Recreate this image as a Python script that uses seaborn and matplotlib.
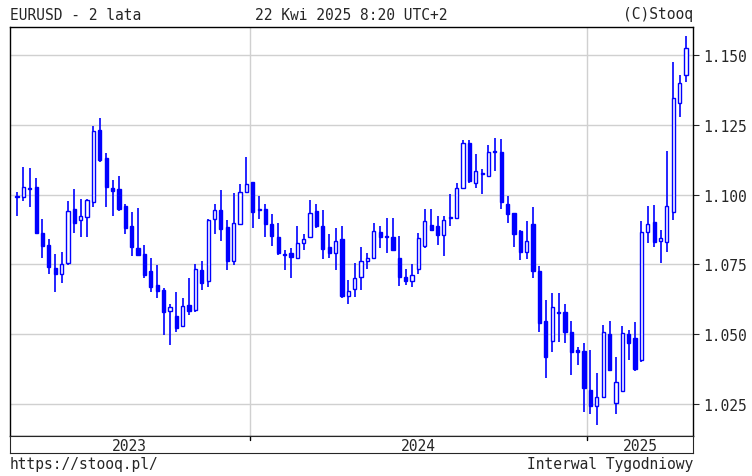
import pandas as pd
import numpy as np
import matplotlib
matplotlib.use("Agg")
import matplotlib.pyplot as plt
import seaborn as sns

# weekly EURUSD candles
opens = [1.0992, 1.0993, 1.1025, 1.1028, 1.0863, 1.0820, 1.0736, 1.0717, 1.0755, 1.0948,
         1.0910, 1.0920, 1.0972, 1.1232, 1.1132, 1.1024, 1.1019, 1.0959, 1.0887, 1.0808,
         1.0788, 1.0727, 1.0677, 1.0658, 1.0583, 1.0566, 1.0528, 1.0605,
         1.0587, 1.0729, 1.0690, 1.0912, 1.0945, 1.0884, 1.0764, 1.0896, 1.1011, 1.1044,
         1.0950, 1.0950, 1.0894, 1.0850, 1.0789, 1.0790, 1.0772, 1.0827, 1.0847, 1.0941,
         1.0888, 1.0811, 1.0790, 1.0841, 1.0637, 1.0662, 1.0705,
         1.0764, 1.0774, 1.0868, 1.0850, 1.0847, 1.0774, 1.0706, 1.0691, 1.0732, 1.0817,
         1.0892, 1.0888, 1.0856, 1.0919, 1.0915, 1.1024, 1.1183, 1.1041, 1.1077, 1.1068,
         1.1154, 1.1151, 1.0968, 1.0935, 1.0871, 1.0794, 1.0895,
         1.0727, 1.0546, 1.0476, 1.0579, 1.0579, 1.0507, 1.0444, 1.0441, 1.0301, 1.0244,
         1.0277, 1.0500, 1.0253, 1.0298, 1.0500, 1.0486, 1.0408, 1.0865, 1.0901, 1.0834,
         1.0832, 1.0939, 1.1327, 1.1428]
highs = [1.1010, 1.1099, 1.1094, 1.1061, 1.0914, 1.0840, 1.0788, 1.0796, 1.0976, 1.1019,
         1.0985, 1.0985, 1.1244, 1.1276, 1.1150, 1.1052, 1.1066, 1.0965, 1.0938, 1.0953,
         1.0820, 1.0774, 1.0747, 1.0666, 1.0610, 1.0651, 1.0629, 1.0700,
         1.0752, 1.0762, 1.0914, 1.0965, 1.1015, 1.0908, 1.1006, 1.1039, 1.1133, 1.1044,
         1.0996, 1.0968, 1.0929, 1.0897, 1.0800, 1.0808, 1.0888, 1.0859, 1.0982, 1.0965,
         1.0945, 1.0859, 1.0879, 1.0888, 1.0693, 1.0756, 1.0811,
         1.0791, 1.0897, 1.0888, 1.0915, 1.0915, 1.0853, 1.0732, 1.0750, 1.0862, 1.0947,
         1.0947, 1.0923, 1.0923, 1.1004, 1.1041, 1.1195, 1.1195, 1.1145, 1.1092, 1.1178,
         1.1202, 1.1198, 1.0994, 1.0935, 1.0874, 1.0906, 1.0955,
         1.0746, 1.0623, 1.0647, 1.0647, 1.0608, 1.0546, 1.0456, 1.0468, 1.0444, 1.0361,
         1.0534, 1.0546, 1.0420, 1.0528, 1.0516, 1.0543, 1.0904, 1.0959, 1.0963, 1.0874,
         1.1156, 1.1474, 1.1428, 1.1569]
lows = [1.0922, 1.0976, 1.0955, 1.0859, 1.0773, 1.0716, 1.0651, 1.0684, 1.0749, 1.0863,
        1.0849, 1.0849, 1.0955, 1.1118, 1.0955, 1.0922, 1.0941, 1.0859, 1.0781, 1.0781,
        1.0702, 1.0651, 1.0631, 1.0498, 1.0460, 1.0510, 1.0525, 1.0570,
        1.0581, 1.0658, 1.0670, 1.0859, 1.0835, 1.0729, 1.0749, 1.0894, 1.1008, 1.0882,
        1.0914, 1.0849, 1.0817, 1.0784, 1.0729, 1.0702, 1.0768, 1.0803, 1.0844, 1.0879,
        1.0770, 1.0772, 1.0731, 1.0631, 1.0607, 1.0635, 1.0658,
        1.0732, 1.0770, 1.0809, 1.0791, 1.0797, 1.0673, 1.0676, 1.0668, 1.0715, 1.0809,
        1.0871, 1.0821, 1.0780, 1.0886, 1.0912, 1.1021, 1.1041, 1.1025, 1.1001, 1.1065,
        1.1086, 1.0950, 1.0900, 1.0813, 1.0765, 1.0770, 1.0700,
        1.0510, 1.0343, 1.0438, 1.0474, 1.0468, 1.0355, 1.0390, 1.0223, 1.0214, 1.0176,
        1.0271, 1.0367, 1.0214, 1.0295, 1.0408, 1.0367, 1.0402, 1.0826, 1.0814, 1.0754,
        1.0796, 1.0909, 1.1279, 1.1402]
closes = [1.0992, 1.1028, 1.1020, 1.0861, 1.0816, 1.0741, 1.0716, 1.0752, 1.0943, 1.0899,
          1.0925, 1.0979, 1.1226, 1.1123, 1.1026, 1.1014, 1.0948, 1.0882, 1.0811, 1.0783,
          1.0712, 1.0670, 1.0656, 1.0580, 1.0599, 1.0524, 1.0602, 1.0585,
          1.0732, 1.0685, 1.0908, 1.0945, 1.0876, 1.0764, 1.0897, 1.1011, 1.1039, 1.0939,
          1.0945, 1.0896, 1.0853, 1.0791, 1.0784, 1.0778, 1.0827, 1.0841, 1.0935, 1.0888,
          1.0805, 1.0791, 1.0835, 1.0637, 1.0656, 1.0703, 1.0764,
          1.0774, 1.0871, 1.0847, 1.0848, 1.0800, 1.0705, 1.0691, 1.0711, 1.0844, 1.0907,
          1.0874, 1.0856, 1.0909, 1.0916, 1.1024, 1.1183, 1.1047, 1.1083, 1.1074, 1.1154,
          1.1152, 1.0974, 1.0930, 1.0860, 1.0794, 1.0835, 1.0725,
          1.0540, 1.0420, 1.0599, 1.0577, 1.0507, 1.0436, 1.0436, 1.0307, 1.0244, 1.0277,
          1.0507, 1.0373, 1.0331, 1.0504, 1.0468, 1.0376, 1.0865, 1.0894, 1.0832, 1.0844,
          1.0961, 1.1347, 1.1401, 1.1524]

dates = pd.date_range(end="2025-04-21", periods=len(closes), freq="W-MON")
df = pd.DataFrame({"date": dates, "open": opens, "high": highs, "low": lows, "close": closes})
df["idx"] = np.arange(len(df))
df["up"] = df["close"] >= df["open"]

sns.set_style("white")
plt.rcParams["font.family"] = ["DejaVu Sans Mono"]
blue = "#0000ff"

W, H = 752, 477
fig = plt.figure(figsize=(W / 100, H / 100), dpi=100)
L, R, T, B = 10, 693, 28, 437
ax = fig.add_axes([L / W, 1 - B / H, (R - L) / W, (B - T) / H])
strip = fig.add_axes([L / W, 1 - 454 / H, (R - L) / W, (454 - B) / H])

xmin, xmax = -1.1, len(df) + 0.1
ax.set_xlim(xmin, xmax)
ax.set_ylim(1.0136, 1.160)
ax.set_yticks([1.025, 1.05, 1.075, 1.1, 1.125, 1.15])
ax.yaxis.tick_right()
ax.set_yticklabels([f"{v:.3f}" for v in ax.get_yticks()], fontsize=10.5)
ax.tick_params(axis="y", length=4, direction="out", pad=3)
ax.set_xticks([])
ax.grid(axis="y", color="#d0d0d0", lw=1)

# year boundaries
year_starts = [df.index[df["date"].dt.year == y][0] - 0.5 for y in (2024, 2025)]
for xs in year_starts:
    ax.axvline(xs, color="#d0d0d0", lw=1, zorder=0)
    strip.axvline(xs, ymin=0.75, color="black", lw=1)

ax.vlines(df["idx"], df["low"], df["high"], color=blue, lw=1.2, zorder=2)
body_lo = np.minimum(df["open"], df["close"])
body_h = np.maximum(np.abs(df["close"] - df["open"]), 0.0004)
ax.bar(df["idx"], body_h, bottom=body_lo, width=0.5,
       color=np.where(df["up"], "white", blue), edgecolor=blue, lw=1.0, zorder=3)

for sp in ax.spines.values():
    sp.set_color("black")
    sp.set_linewidth(1)

strip.set_xlim(xmin, xmax)
strip.set_ylim(0, 1)
strip.set_xticks([])
strip.set_yticks([])
bounds = [xmin] + year_starts + [xmax]
for lab, a, b in zip(["2023", "2024", "2025"], bounds[:-1], bounds[1:]):
    strip.text((a + b) / 2, 0.45, lab, ha="center", va="center", fontsize=10.5)

fig.text(L / W, 1 - 15 / H, "EURUSD - 2 lata", ha="left", va="center", fontsize=10.5)
fig.text(351 / W, 1 - 15 / H, "22 Kwi 2025 8:20 UTC+2", ha="center", va="center", fontsize=10.5)
fig.text(R / W, 1 - 15 / H, "(C)Stooq", ha="right", va="center", fontsize=10.5)
fig.text(L / W, 1 - 465 / H, "https://stooq.pl/", ha="left", va="center", fontsize=10.5)
fig.text(R / W, 1 - 465 / H, "Interwal Tygodniowy", ha="right", va="center", fontsize=10.5)

fig.savefig("out.png", dpi=100, facecolor="white")
